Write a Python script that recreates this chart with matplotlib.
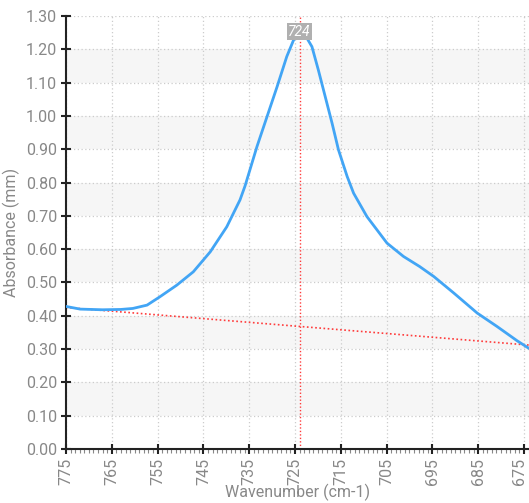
import matplotlib
matplotlib.use("Agg")
import matplotlib.pyplot as plt
import matplotlib.transforms as mtransforms
import numpy as np
from matplotlib.ticker import MultipleLocator, FormatStrFormatter

wavenumber = [775, 771.9, 767, 763, 760.4, 757.3, 754.5, 750.8, 747.2, 743.5, 739.9,
              737.0, 735.9, 733.3, 731.1, 728.9, 726.8, 725.3, 724.0, 722.8, 721.3,
              719.9, 718.4, 716.9, 715.5, 713.6, 712.2, 709.3, 704.9, 701.3, 697.8,
              694.7, 690.3, 685.2, 680.9, 676.5, 673.9]
absorbance = [0.428, 0.420, 0.418, 0.419, 0.422, 0.432, 0.457, 0.492, 0.532, 0.592, 0.667,
              0.748, 0.790, 0.908, 0.998, 1.088, 1.178, 1.228, 1.246, 1.243, 1.208,
              1.138, 1.058, 0.978, 0.898, 0.818, 0.768, 0.698, 0.618, 0.578, 0.548,
              0.518, 0.468, 0.408, 0.368, 0.325, 0.302]
baseline_x = [775, 673.9]
baseline_y = [0.425, 0.312]
peak_x = 724.0
peak_label = "724"
x_ticks = [775, 765, 755, 745, 735, 725, 715, 705, 695, 685, 675]

plt.rcParams['font.family'] = ['Roboto', 'DejaVu Sans']

fig = plt.figure(figsize=(5.29, 5.03), dpi=100)
ax = fig.add_axes([66/529, 1-449/503, (529-66)/529, (449-16)/503])

for lo in np.arange(0.1, 1.3, 0.2):
    ax.axhspan(lo, lo + 0.1, color='#f6f6f6', zorder=0, lw=0)

ax.plot(wavenumber, absorbance, color='#42a5f5', lw=2, zorder=3,
        solid_joinstyle='round', solid_capstyle='round')
ax.plot(baseline_x, baseline_y, color='#ff3b3b', lw=1.2, ls=(0, (1, 1.5)), zorder=2)
ax.axvline(peak_x, color='#ff3b3b', lw=1, ls=(0, (1, 1.5)), zorder=2)
ax.text(peak_x, 1.253, peak_label, ha='center', va='center', fontsize=10, color='white',
        style='italic', bbox=dict(boxstyle='square,pad=0.12', fc='#b0b0b0', ec='none'), zorder=4)

ax.set_xlim(775, 673.9)
ax.set_ylim(0, 1.3)
ax.set_xticks(x_ticks)
ax.xaxis.set_minor_locator(MultipleLocator(1))
ax.yaxis.set_major_locator(MultipleLocator(0.1))
ax.yaxis.set_major_formatter(FormatStrFormatter('%.2f'))
ax.grid(True, which='major', color='#cccccc', ls=(0, (1, 2)), lw=0.9)
ax.set_axisbelow(True)

for s in ['top', 'right']:
    ax.spines[s].set_visible(False)
for s in ['left', 'bottom']:
    ax.spines[s].set_linewidth(1.5)
    ax.spines[s].set_color('#222222')

ax.tick_params(axis='both', which='major', direction='inout', length=7, width=1.5,
               color='#222222', labelcolor='#888888', labelsize=11.5, pad=3)
ax.tick_params(axis='x', which='minor', direction='out', length=3, width=0.8, color='#888888')
ax.tick_params(axis='x', which='major', labelrotation=90)

# nudge the last tick label left so it stays inside the image
last = ax.get_xticklabels()[-1]
last.set_transform(last.get_transform() +
                   mtransforms.ScaledTranslation(-4/100, 0, fig.dpi_scale_trans))

ax.set_xlabel('Wavenumber (cm-1)', color='#888888', fontsize=11.5, labelpad=-1)
ax.set_ylabel('Absorbance (mm)', color='#888888', fontsize=11.5, labelpad=4)

fig.savefig('out.png', dpi=100)
